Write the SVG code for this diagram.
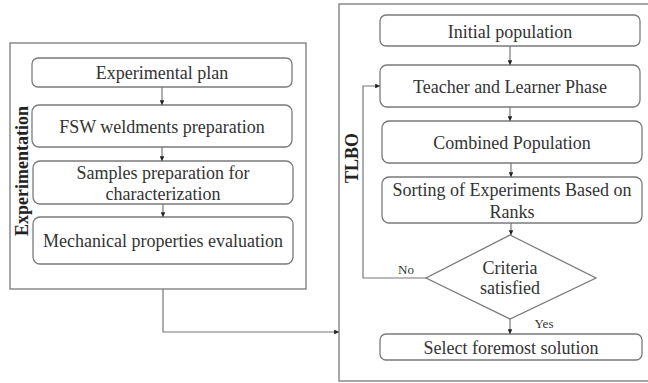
<svg xmlns="http://www.w3.org/2000/svg" width="648" height="383" viewBox="0 0 648 383">
<style>
.frame{fill:none;stroke:#8a8a8a;stroke-width:1.5}
.box{fill:#fff;stroke:#7a7a7a;stroke-width:1.3}
.c{fill:none;stroke:#777;stroke-width:1.2}
.t{font-family:'Liberation Serif','Times New Roman',serif;font-size:18px;fill:#333;text-anchor:middle}
.lab{font-family:'Liberation Serif','Times New Roman',serif;font-size:18px;font-weight:bold;fill:#222;text-anchor:middle}
.sm{font-family:'Liberation Serif','Times New Roman',serif;font-size:13px;fill:#333;text-anchor:middle}
</style>
<defs>
<marker id="ah" viewBox="0 0 6 6" refX="6" refY="3" markerWidth="4" markerHeight="4" orient="auto" markerUnits="strokeWidth">
<path d="M0,0 L6,3 L0,6 Z" fill="#222"/>
</marker>
</defs>
<rect width="648" height="383" fill="#fff"/>
<g id="experimentation">
<rect class="frame" x="10" y="43" width="296" height="246"/>
<text class="lab" transform="translate(28,171) rotate(-90)">Experimentation</text>
</g>
<g id="tlbo">
<rect class="frame" x="339" y="4" width="320" height="377"/>
<text class="lab" transform="translate(358,158) rotate(-90)">TLBO</text>
</g>
<g id="n1"><rect class="box" x="32" y="58" width="260" height="29" rx="6"/><text class="t" x="162" y="79">Experimental plan</text></g>
<g id="n2"><rect class="box" x="32" y="105" width="260" height="42" rx="7"/><text class="t" x="162" y="133">FSW weldments preparation</text></g>
<g id="n3"><rect class="box" x="33" y="161" width="260" height="43" rx="7"/><text class="t" x="163" y="179">Samples preparation for</text><text class="t" x="163" y="200">characterization</text></g>
<g id="n4"><rect class="box" x="33" y="217" width="260" height="47" rx="7"/><text class="t" x="163" y="247">Mechanical properties evaluation</text></g>
<g id="r1"><rect class="box" x="380" y="15" width="260" height="31" rx="6"/><text class="t" x="510" y="38">Initial population</text></g>
<g id="r2"><rect class="box" x="380" y="65" width="260" height="42" rx="7"/><text class="t" x="510" y="93">Teacher and Learner Phase</text></g>
<g id="r3"><rect class="box" x="382" y="121" width="260" height="42" rx="7"/><text class="t" x="512" y="149">Combined Population</text></g>
<g id="r4"><rect class="box" x="382" y="177" width="260" height="46" rx="7"/><text class="t" x="512" y="196">Sorting of Experiments Based on</text><text class="t" x="512" y="218">Ranks</text></g>
<g id="r5"><polygon class="box" points="510,235 596,278 510,319 426,278"/><text class="t" x="510" y="274">Criteria</text><text class="t" x="510" y="294">satisfied</text></g>
<g id="r6"><rect class="box" x="380" y="334" width="262" height="26" rx="6"/><text class="t" x="511" y="354">Select foremost solution</text></g>
<g id="connectors">
<line class="c" x1="162" y1="87" x2="162" y2="105" marker-end="url(#ah)"/>
<line class="c" x1="162" y1="147" x2="162" y2="161" marker-end="url(#ah)"/>
<line class="c" x1="163" y1="204" x2="163" y2="217" marker-end="url(#ah)"/>
<polyline class="c" points="163,289 163,332 339,332" marker-end="url(#ah)"/>
<line class="c" x1="510" y1="46" x2="510" y2="65" marker-end="url(#ah)"/>
<line class="c" x1="510" y1="107" x2="510" y2="121" marker-end="url(#ah)"/>
<line class="c" x1="511" y1="163" x2="511" y2="177" marker-end="url(#ah)"/>
<line class="c" x1="511" y1="223" x2="511" y2="235" marker-end="url(#ah)"/>
<line class="c" x1="510" y1="319" x2="510" y2="334" marker-end="url(#ah)"/>
<polyline class="c" points="426,278 363,278 363,86 380,86" marker-end="url(#ah)"/>
<text class="sm" x="406" y="274">No</text>
<text class="sm" x="544" y="328">Yes</text>
</g>
</svg>
